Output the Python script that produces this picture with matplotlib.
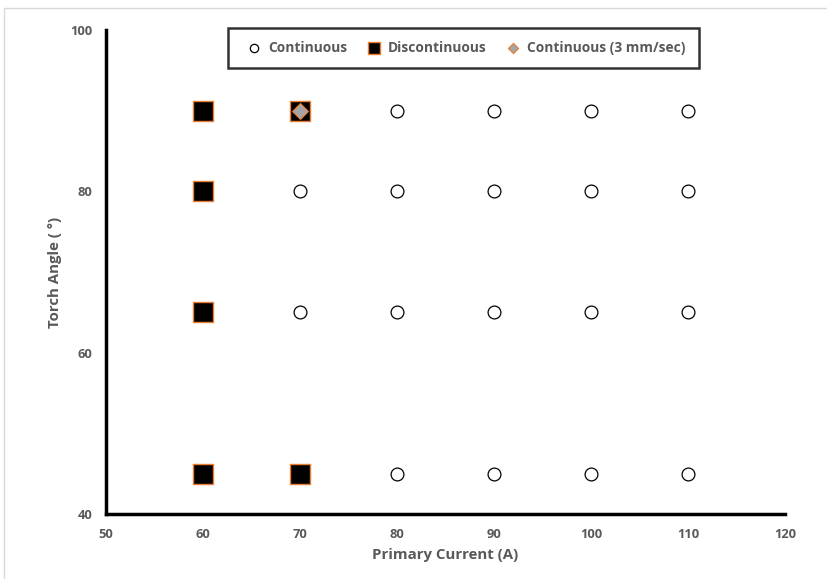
import matplotlib.pyplot as plt
from matplotlib.patches import Rectangle

# data
cont_x = [80, 90, 100, 110, 70, 80, 90, 100, 110, 70, 80, 90, 100, 110, 80, 90, 100, 110]
cont_y = [90, 90, 90, 90, 80, 80, 80, 80, 80, 65, 65, 65, 65, 65, 45, 45, 45, 45]
disc_x = [60, 70, 60, 60, 60, 70]
disc_y = [90, 90, 80, 65, 45, 45]
slow_x = [70]
slow_y = [90]

plt.rcParams['font.family'] = ['Open Sans', 'DejaVu Sans']
grey = '#595959'

fig = plt.figure(figsize=(8.27, 5.79), dpi=100)
ax = fig.add_axes([106 / 827, 1 - 514 / 579, (785 - 106) / 827, (514 - 30) / 579])

ax.scatter(cont_x, cont_y, s=85, marker='o', facecolor='white', edgecolor='black',
           linewidth=0.9, label='Continuous', zorder=3)
ax.scatter(disc_x, disc_y, s=190, marker='s', facecolor='black', edgecolor='#ED7D31',
           linewidth=1.0, label='Discontinuous', zorder=3)
ax.scatter(slow_x, slow_y, s=65, marker='D', facecolor='#A5A5A5', edgecolor='#ED7D31',
           linewidth=0.8, label='Continuous (3 mm/sec)', zorder=4)

ax.set_xlim(50, 120)
ax.set_ylim(40, 100)
ax.set_xticks(range(50, 121, 10))
ax.set_yticks([40, 60, 80, 100])
ax.tick_params(length=0, labelsize=9.3, labelcolor=grey, pad=10)
for lbl in ax.get_xticklabels() + ax.get_yticklabels():
    lbl.set_fontweight('bold')

ax.spines['top'].set_visible(False)
ax.spines['right'].set_visible(False)
ax.spines['left'].set_linewidth(2.5)
ax.spines['bottom'].set_linewidth(2.5)

ax.set_xlabel('Primary Current (A)', fontsize=10.8, fontweight='bold', color=grey, labelpad=5)
ax.set_ylabel('Torch Angle ( °)', fontsize=10.8, fontweight='bold', color=grey, labelpad=6)

leg = fig.legend(loc='upper center', bbox_to_anchor=(463 / 827, 1 - 21 / 579), ncol=3,
                 frameon=True, fancybox=False, fontsize=9.9, handletextpad=0.0,
                 columnspacing=0.95, borderpad=0.95, markerscale=0.65)
leg.get_frame().set_edgecolor('black')
leg.get_frame().set_linewidth(1.8)
for t in leg.get_texts():
    t.set_color(grey)
    t.set_fontweight('bold')

fig.patches.append(Rectangle((4 / 827, -0.1), 1.1, 1 - 8 / 579 + 0.1, transform=fig.transFigure,
                             fill=False, edgecolor='#d9d9d9', linewidth=1))

fig.savefig('out.png', dpi=100)
